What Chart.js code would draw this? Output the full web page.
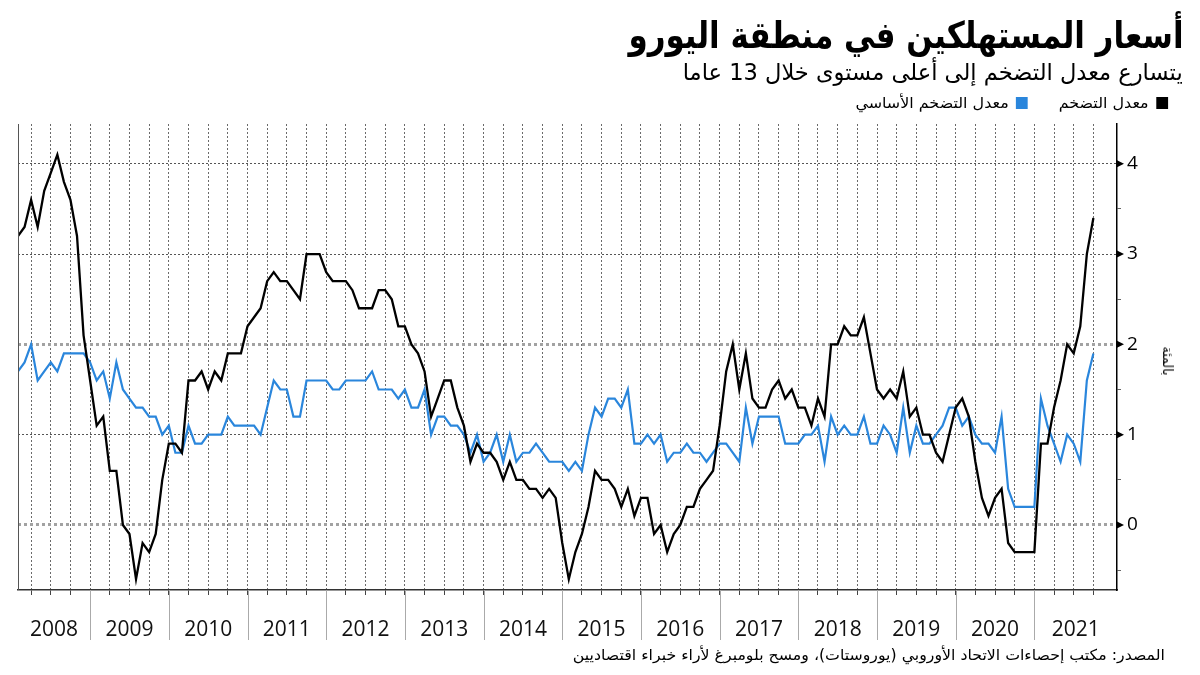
<!DOCTYPE html>
<html lang="ar">
<head>
<meta charset="utf-8">
<script src="https://cdn.jsdelivr.net/npm/chart.js"></script>
<style>
  html, body { margin: 0; padding: 0; background: #fff; }
  #wrap { position: relative; width: 1200px; height: 675px; overflow: hidden;
          font-family: "DejaVu Sans Condensed", "DejaVu Sans", sans-serif; color: #000; }
  #chart { position: absolute; left: 0; top: 0; }
  .rt { position: absolute; white-space: nowrap; direction: rtl; transform-origin: right center; }
  #title { right: 17px; top: 11px; font-size: 37px; font-weight: bold; line-height: 50px; }
  #subtitle { right: 17px; top: 56px; font-size: 23px; line-height: 32px; }
  #legend { right: 33px; top: 93px; font-size: 15px; line-height: 20px; }
  #legend .key { display: inline-block; margin-left: 22px; }
  #legend .key:last-child { margin-left: 0; }
  #legend i { display: inline-block; width: 10px; height: 12px; margin-left: 6px; vertical-align: -1px; }
  #source { right: 35px; top: 644px; font-size: 15px; line-height: 22px; }
  #unit { position: absolute; left: 1168px; top: 361px; font-size: 14px; white-space: nowrap;
          direction: rtl; transform: translate(-50%, -50%) rotate(90deg); }
</style>
</head>
<body>
<div id="wrap">
  <canvas id="chart" width="1200" height="675"></canvas>
  <div id="title" class="rt">أسعار المستهلكين في منطقة اليورو</div>
  <div id="subtitle" class="rt">يتسارع معدل  التضخم إلى أعلى مستوى خلال 13 عاما</div>
  <div id="legend" class="rt">
    <span class="key"><i style="background:#000"></i>معدل التضخم</span>
    <span class="key"><i style="background:#2a86dc"></i>معدل التضخم الأساسي</span>
  </div>
  <div id="unit">بالمئة</div>
  <div id="source" class="rt">المصدر: مكتب إحصاءات الاتحاد الأوروبي (يوروستات)، ومسح بلومبرغ لأراء خبراء اقتصاديين</div>
</div>
<script>
// monthly values, Jan 2008 .. Sep 2021
const years = ['2008', '2009', '2010', '2011', '2012', '2013', '2014',
               '2015', '2016', '2017', '2018', '2019', '2020', '2021'];

const headline = [
  3.2, 3.3, 3.6, 3.3, 3.7, 3.9, 4.1, 3.8, 3.6, 3.2, 2.1, 1.6,
  1.1, 1.2, 0.6, 0.6, 0.0, -0.1, -0.6, -0.2, -0.3, -0.1, 0.5, 0.9,
  0.9, 0.8, 1.6, 1.6, 1.7, 1.5, 1.7, 1.6, 1.9, 1.9, 1.9, 2.2,
  2.3, 2.4, 2.7, 2.8, 2.7, 2.7, 2.6, 2.5, 3.0, 3.0, 3.0, 2.8,
  2.7, 2.7, 2.7, 2.6, 2.4, 2.4, 2.4, 2.6, 2.6, 2.5, 2.2, 2.2,
  2.0, 1.9, 1.7, 1.2, 1.4, 1.6, 1.6, 1.3, 1.1, 0.7, 0.9, 0.8,
  0.8, 0.7, 0.5, 0.7, 0.5, 0.5, 0.4, 0.4, 0.3, 0.4, 0.3, -0.2,
  -0.6, -0.3, -0.1, 0.2, 0.6, 0.5, 0.5, 0.4, 0.2, 0.4, 0.1, 0.3,
  0.3, -0.1, 0.0, -0.3, -0.1, 0.0, 0.2, 0.2, 0.4, 0.5, 0.6, 1.1,
  1.7, 2.0, 1.5, 1.9, 1.4, 1.3, 1.3, 1.5, 1.6, 1.4, 1.5, 1.3,
  1.3, 1.1, 1.4, 1.2, 2.0, 2.0, 2.2, 2.1, 2.1, 2.3, 1.9, 1.5,
  1.4, 1.5, 1.4, 1.7, 1.2, 1.3, 1.0, 1.0, 0.8, 0.7, 1.0, 1.3,
  1.4, 1.2, 0.7, 0.3, 0.1, 0.3, 0.4, -0.2, -0.3, -0.3, -0.3, -0.3,
  0.9, 0.9, 1.3, 1.6, 2.0, 1.9, 2.2, 3.0, 3.4
];

const core = [
  1.7, 1.8, 2.0, 1.6, 1.7, 1.8, 1.7, 1.9, 1.9, 1.9, 1.9, 1.8,
  1.6, 1.7, 1.4, 1.8, 1.5, 1.4, 1.3, 1.3, 1.2, 1.2, 1.0, 1.1,
  0.8, 0.8, 1.1, 0.9, 0.9, 1.0, 1.0, 1.0, 1.2, 1.1, 1.1, 1.1,
  1.1, 1.0, 1.3, 1.6, 1.5, 1.5, 1.2, 1.2, 1.6, 1.6, 1.6, 1.6,
  1.5, 1.5, 1.6, 1.6, 1.6, 1.6, 1.7, 1.5, 1.5, 1.5, 1.4, 1.5,
  1.3, 1.3, 1.5, 1.0, 1.2, 1.2, 1.1, 1.1, 1.0, 0.8, 1.0, 0.7,
  0.8, 1.0, 0.7, 1.0, 0.7, 0.8, 0.8, 0.9, 0.8, 0.7, 0.7, 0.7,
  0.6, 0.7, 0.6, 1.0, 1.3, 1.2, 1.4, 1.4, 1.3, 1.5, 0.9, 0.9,
  1.0, 0.9, 1.0, 0.7, 0.8, 0.8, 0.9, 0.8, 0.8, 0.7, 0.8, 0.9,
  0.9, 0.8, 0.7, 1.3, 0.9, 1.2, 1.2, 1.2, 1.2, 0.9, 0.9, 0.9,
  1.0, 1.0, 1.1, 0.7, 1.2, 1.0, 1.1, 1.0, 1.0, 1.2, 0.9, 0.9,
  1.1, 1.0, 0.8, 1.3, 0.8, 1.1, 0.9, 0.9, 1.0, 1.1, 1.3, 1.3,
  1.1, 1.2, 1.0, 0.9, 0.9, 0.8, 1.2, 0.4, 0.2, 0.2, 0.2, 0.2,
  1.4, 1.1, 0.9, 0.7, 1.0, 0.9, 0.7, 1.6, 1.9
];

const yLabels = [0, 1, 2, 3, 4];
const yMinor = [-0.5, 0.5, 1.5, 2.5, 3.5];

const BLUE = '#2a86dc';

// quarter-end grid lines (Mar, Jun, Sep, Dec)
const quarterIdx = [];
for (let i = 2; i < headline.length; i += 3) quarterIdx.push(i);

function fitWidth(id, target) {
  const el = document.getElementById(id);
  const w = el.getBoundingClientRect().width;
  el.style.transform = 'scaleX(' + (target / w).toFixed(3) + ')';
}
fitWidth('title', 555);
fitWidth('subtitle', 500);
fitWidth('legend', 312);
fitWidth('source', 592);

const axisDecor = {
  id: 'axisDecor',
  afterDraw(chart) {
    const { ctx, chartArea: a, scales: { x, y } } = chart;
    ctx.save();

    // left frame line
    ctx.strokeStyle = '#555';
    ctx.lineWidth = 1;
    ctx.beginPath();
    ctx.moveTo(a.left + 0.5, a.top);
    ctx.lineTo(a.left + 0.5, a.bottom);
    ctx.stroke();

    // year separators + year labels
    ctx.font = '21px "Open Sans", sans-serif';
    ctx.fillStyle = '#111';
    ctx.textAlign = 'center';
    ctx.textBaseline = 'middle';
    years.forEach((yr, k) => {
      const from = k === 0 ? x.min : k * 12 - 1;
      const to = k === years.length - 1 ? x.max : k * 12 + 11;
      if (k > 0) {
        const px = Math.round(x.getPixelForValue(from)) + 0.5;
        ctx.strokeStyle = '#aaa';
        ctx.beginPath();
        ctx.moveTo(px, a.bottom);
        ctx.lineTo(px, a.bottom + 50);
        ctx.stroke();
      }
      const cx = (x.getPixelForValue(from) + x.getPixelForValue(to)) / 2;
      ctx.fillText(yr, cx, a.bottom + 40);
    });

    // little pointers at labelled y ticks
    ctx.fillStyle = '#000';
    yLabels.forEach(v => {
      const py = y.getPixelForValue(v);
      ctx.beginPath();
      ctx.moveTo(a.right, py - 3.5);
      ctx.lineTo(a.right + 7, py);
      ctx.lineTo(a.right, py + 3.5);
      ctx.closePath();
      ctx.fill();
    });
    ctx.restore();
  }
};

const isThick = v => v === 0 || v === 2;

new Chart(document.getElementById('chart'), {
  type: 'line',
  data: {
    datasets: [{
      label: 'معدل التضخم',
      data: headline.map((v, i) => ({ x: i, y: v })),
      borderColor: '#000',
      borderWidth: 2.3,
      pointRadius: 0,
      tension: 0
    }, {
      label: 'معدل التضخم الأساسي',
      data: core.map((v, i) => ({ x: i, y: v })),
      borderColor: BLUE,
      borderWidth: 2.2,
      pointRadius: 0,
      tension: 0
    }]
  },
  options: {
    responsive: false,
    animation: false,
    layout: { padding: { left: 18, top: 124, right: 38, bottom: 35 } },
    plugins: {
      legend: { display: false },
      title: { display: false },
      tooltip: { enabled: false }
    },
    scales: {
      x: {
        type: 'linear',
        min: 0,
        max: 167.6,
        afterBuildTicks: s => { s.ticks = quarterIdx.map(v => ({ value: v })); },
        afterFit: s => { s.height = 50; },
        ticks: { display: false },
        grid: { color: '#6a6a6a', lineWidth: 1, drawTicks: true, tickLength: 5, tickColor: '#444', tickWidth: 1 },
        border: { display: true, color: '#333', width: 1.5, dash: [2, 2] }
      },
      y: {
        position: 'right',
        min: -0.72,
        max: 4.44,
        afterBuildTicks: s => {
          s.ticks = yMinor.concat(yLabels).sort((p, q) => p - q).map(v => ({ value: v }));
        },
        afterFit: s => { s.width = 45; },
        ticks: {
          autoSkip: false,
          padding: 6,
          color: '#000',
          font: { family: '"Open Sans", sans-serif', size: 19 },
          callback: v => (Number.isInteger(v) ? String(v) : '')
        },
        grid: {
          color: c => (c.tick && Number.isInteger(c.tick.value) ? (isThick(c.tick.value) ? '#a2a2a2' : '#555') : 'rgba(0,0,0,0)'),
          lineWidth: c => (c.tick && isThick(c.tick.value) ? 3 : 1),
          drawTicks: true,
          tickLength: 4,
          tickColor: '#666',
          tickWidth: 1
        },
        border: {
          display: true,
          color: '#000',
          width: 1.5,
          dash: c => (c.tick && isThick(c.tick.value) ? [3, 3] : [2, 2])
        }
      }
    }
  },
  plugins: [axisDecor]
});
</script>
</body>
</html>
